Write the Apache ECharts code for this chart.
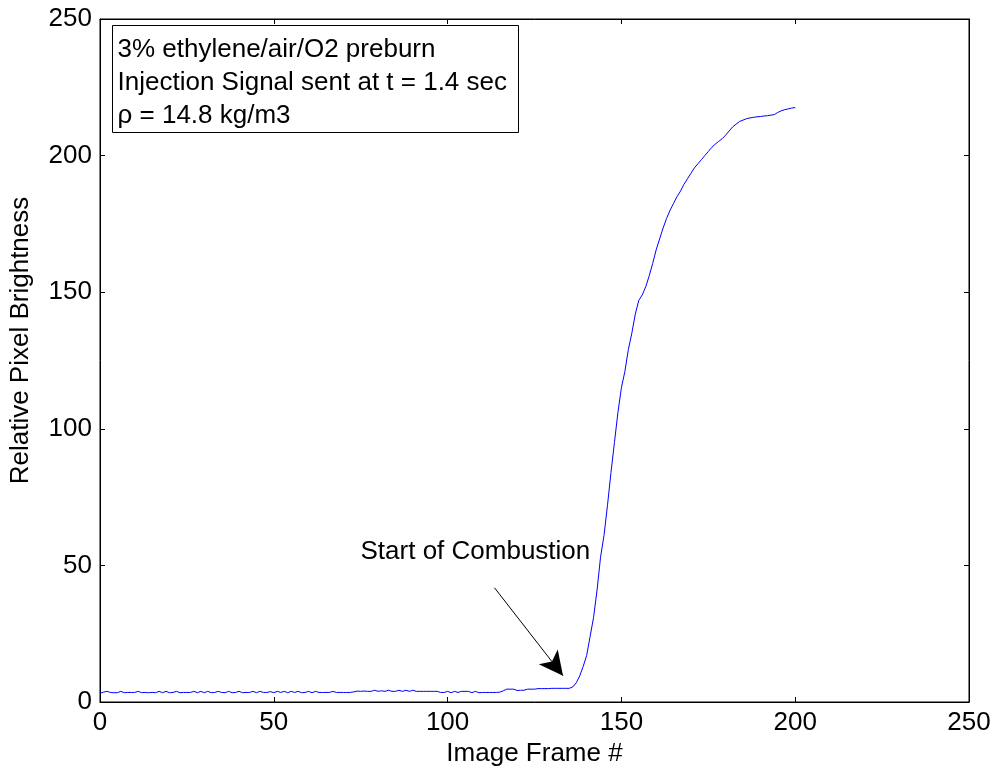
<!DOCTYPE html>
<html><head><meta charset="utf-8">
<script src="https://cdn.jsdelivr.net/npm/echarts@6/dist/echarts.min.js"></script>
<style>html,body{margin:0;padding:0;background:#fff}#c{width:995px;height:775px}</style>
</head><body><div id="c"></div>
<script>
var xTicks = [0, 50, 100, 150, 200, 250];
var yTicks = [0, 50, 100, 150, 200, 250];
var baseline = [
3.2,3.6,3.9,3.5,3.4,3.4,3.9,3.4,3.5,3.5,
3.5,3.9,3.4,3.5,3.4,3.5,3.4,3.9,3.4,3.9,
3.4,3.5,3.9,3.4,3.5,3.5,3.5,3.9,3.4,3.9,
3.4,3.9,3.4,3.5,3.9,3.5,3.4,3.9,3.4,3.5,
3.9,3.4,3.5,3.5,3.9,3.4,3.9,3.5,3.5,3.8,
3.4,3.9,3.5,3.9,3.4,3.9,3.5,3.9,3.4,3.5,
3.9,3.4,3.9,3.5,3.5,3.5,3.5,3.9,3.5,3.5,
3.5,3.5,3.5,3.7,4.0,3.9,4.0,3.9,3.9,4.3,
3.9,4.1,3.9,4.3,3.9,3.9,4.3,3.9,4.3,3.9,
4.3,3.9,3.9,3.9,3.9,3.9,3.9,3.9,3.5,3.5,
3.9,3.4,3.9,3.5,3.9,3.9,3.9,3.4,3.9,3.4,
3.5,3.5,3.5,3.5,3.5,3.6,4.1,4.7,4.7,4.7,
4.2,4.3,4.3,4.7,4.7,4.7,4.9,4.9,4.9,4.9,
5.0,5.0,5.0,5.0,5.0,5.0
];
var rise = [
5.5,7.0,9.5,13,17,24,31,41,53,61,
72,84,95,106,115,121,129,135,142,147,
149,152,156,160.5,165.5,169.5,173.5,177,180,182.5,
185,187,189.5,191.5,193.5,195.5,197,198.5,200,201.5,
203,204.2,205.2,206.2,207.5,209,210.5,211.5,212.5,213,
213.5,213.8,214,214.2,214.3,214.5,214.6,214.8,215,215.8,
216.4,216.8,217.1,217.4,217.6
];
var brightness = baseline.concat(rise);
var frames = [];
for (var i = 0; i < brightness.length; i++) frames.push(i);
var boxLines = ['3% ethylene/air/O2 preburn', 'Injection Signal sent at t = 1.4 sec', '\u03c1 = 14.8 kg/m3'];
var arrowFrom = [113.5, 41.8];
var arrowTo = [133.2, 9.6];
var arrowText = 'Start of Combustion';
var arrowTextPos = [108, 55];

var FONT = '"Liberation Sans", Arial, sans-serif';
var chart = echarts.init(document.getElementById('c'));
function axisBase(extra) {
  var o = {
    type: 'value', min: 0, max: 250, interval: 50,
    axisLine: {show: true, onZero: false, lineStyle: {color: '#000', width: 1}},
    axisTick: {show: true, inside: true, length: 5, lineStyle: {color: '#000', width: 1}},
    splitLine: {show: false}
  };
  for (var k in extra) o[k] = extra[k];
  return o;
}
var data = frames.map(function (f, i) { return [f, brightness[i]]; });
chart.setOption({
  animation: false,
  backgroundColor: '#fff',
  textStyle: {fontFamily: FONT},
  grid: {left: 100, right: 26, top: 19, bottom: 73, show: true, borderColor: '#000', borderWidth: 1, backgroundColor: '#fff'},
  xAxis: [
    axisBase({position: 'bottom',
      name: 'Image Frame #', nameLocation: 'middle', nameGap: 35,
      nameTextStyle: {fontSize: 26, color: '#000', fontFamily: FONT},
      axisLabel: {fontSize: 26, color: '#000', margin: 8, fontFamily: FONT}}),
    axisBase({position: 'top', axisLabel: {show: false}})
  ],
  yAxis: [
    axisBase({position: 'left',
      name: 'Relative Pixel Brightness', nameLocation: 'middle', nameGap: 66,
      nameTextStyle: {fontSize: 26, color: '#000', fontFamily: FONT, padding: [0, 0, 0, 40]},
      axisLabel: {fontSize: 26, color: '#000', margin: 8, fontFamily: FONT}}),
    axisBase({position: 'right', axisLabel: {show: false}})
  ],
  series: [{
    type: 'line', data: data, showSymbol: false, symbol: 'none',
    lineStyle: {color: '#0000ff', width: 1}, silent: true,
    markLine: {
      silent: true, symbol: ['none', 'arrow'], symbolSize: [18, 24],
      lineStyle: {color: '#000', width: 1, type: 'solid'},
      label: {show: false},
      data: [[{coord: arrowFrom}, {coord: arrowTo}]]
    },
    markPoint: {
      silent: true, symbol: 'circle', symbolSize: 0,
      label: {show: true, formatter: arrowText, fontSize: 26, color: '#000', fontFamily: FONT, position: 'inside'},
      data: [{coord: arrowTextPos}]
    }
  }],
  graphic: [{
    type: 'group', left: 112, top: 25,
    children: [
      {type: 'rect', shape: {x: 0, y: 0, width: 406, height: 107}, style: {fill: '#fff', stroke: '#000', lineWidth: 1}},
      {type: 'text', style: {x: 5, y: 24, text: boxLines[0], font: '26px ' + FONT, fill: '#000', textVerticalAlign: 'middle'}},
      {type: 'text', style: {x: 5, y: 57, text: boxLines[1], font: '26px ' + FONT, fill: '#000', textVerticalAlign: 'middle'}},
      {type: 'text', style: {x: 5, y: 90, text: boxLines[2], font: '26px ' + FONT, fill: '#000', textVerticalAlign: 'middle'}}
    ]
  }]
});
</script></body></html>
